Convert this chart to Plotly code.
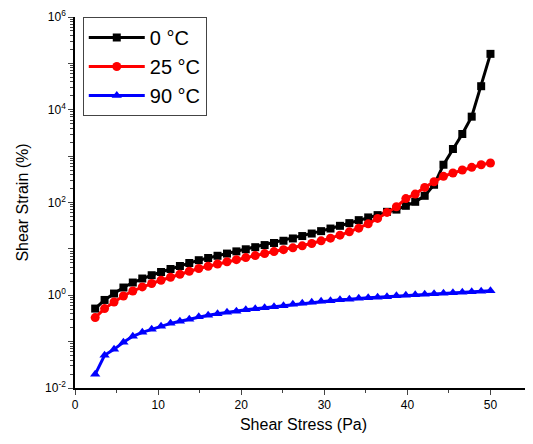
import plotly.graph_objects as go

stress = [2.41, 3.54, 4.68, 5.81, 6.94, 8.08, 9.21, 10.34, 11.48, 12.61, 13.74,
          14.88, 16.01, 17.14, 18.28, 19.41, 20.54, 21.68, 22.81, 23.94, 25.08,
          26.21, 27.34, 28.48, 29.61, 30.74, 31.88, 33.01, 34.14, 35.28, 36.41,
          37.54, 38.68, 39.81, 40.94, 42.08, 43.21, 44.34, 45.48, 46.61, 47.74,
          48.88, 50.0]

strain_0C = [0.516, 0.792, 1.088, 1.467, 1.881, 2.295, 2.704, 3.171, 3.681, 4.273,
             4.960, 5.701, 6.361, 7.096, 7.915, 8.831, 9.80, 10.88, 12.08, 13.41,
             14.96, 16.77, 18.90, 21.41, 24.12, 27.44, 31.40, 35.91, 41.68, 47.68,
             53.44, 62.97, 70.25, 84.87, 103.5, 139.5, 241.2, 652.0, 1423.0, 3001.0,
             7096.0, 32180.0, 160400.0]

strain_25C = [0.330, 0.516, 0.717, 0.966, 1.238, 1.511, 1.789, 2.109, 2.448, 2.842,
              3.299, 3.773, 4.230, 4.720, 5.266, 5.845, 6.489, 7.168, 7.915, 8.744,
              9.61, 10.51, 11.61, 13.08, 14.89, 17.02, 19.77, 23.29, 28.00, 34.67,
              45.36, 61.12, 80.77, 121.4, 151.9, 211.9, 280.0, 366.2, 431.5, 501.0,
              573.0, 652.1, 709.6]

strain_90C = [0.0197, 0.0506, 0.0682, 0.0966, 0.130, 0.159, 0.184, 0.214, 0.248, 0.274,
              0.303, 0.343, 0.370, 0.399, 0.429, 0.451, 0.486, 0.511, 0.537, 0.565,
              0.593, 0.639, 0.672, 0.706, 0.742, 0.761, 0.800, 0.820, 0.861, 0.883,
              0.905, 0.929, 0.975, 1.0, 1.025, 1.051, 1.077, 1.105, 1.132, 1.161,
              1.19, 1.22, 1.25]

series_names = ["0 °C", "25 °C", "90 °C"]
y_tickvals = [1e-2, 1e-1, 1e0, 1e1, 1e2, 1e3, 1e4, 1e5, 1e6]
y_ticktext = ["10<sup>-2</sup>", "", "10<sup>0</sup>", "", "10<sup>2</sup>", "",
              "10<sup>4</sup>", "", "10<sup>6</sup>"]
x_tickvals = [0, 10, 20, 30, 40, 50]

FONT = "Arial, Liberation Sans, sans-serif"

fig = go.Figure()
fig.add_trace(go.Scatter(x=stress, y=strain_0C, name=series_names[0], mode="lines+markers",
                         line=dict(color="black", width=3),
                         marker=dict(symbol="square", size=8, color="black")))
fig.add_trace(go.Scatter(x=stress, y=strain_25C, name=series_names[1], mode="lines+markers",
                         line=dict(color="red", width=3),
                         marker=dict(symbol="circle", size=9, color="red")))
fig.add_trace(go.Scatter(x=stress, y=strain_90C, name=series_names[2], mode="lines+markers",
                         line=dict(color="blue", width=3),
                         marker=dict(symbol="triangle-up", size=9, color="blue")))

# the page body adds an 8px offset, so the figure is sized and margined to compensate
fig.update_layout(
    width=525, height=436,
    margin=dict(l=67, r=1, t=9, b=56),
    paper_bgcolor="white", plot_bgcolor="white",
    font=dict(family=FONT, size=12, color="black"),
    showlegend=True,
    legend=dict(x=0.017, y=1.0, xanchor="left", yanchor="top",
                bordercolor="#444444", borderwidth=1, bgcolor="white",
                font=dict(family=FONT, size=20, color="black"),
                tracegroupgap=0, itemwidth=56),
)

fig.update_xaxes(
    range=[-0.02, 55], tickvals=x_tickvals, ticks="outside", ticklen=5, tickwidth=1,
    showline=True, linecolor="black", linewidth=1.5, showgrid=False, zeroline=False,
    automargin=False,
    minor=dict(dtick=5, tick0=0, ticks="outside", ticklen=3, tickwidth=1, showgrid=False),
    title=dict(text="Shear Stress (Pa)", font=dict(family=FONT, size=16), standoff=8),
    tickfont=dict(family=FONT, size=12),
)
fig.update_yaxes(
    type="log", range=[-2, 6], tickvals=y_tickvals, ticktext=y_ticktext,
    ticks="outside", ticklen=5, tickwidth=1,
    showline=True, linecolor="black", linewidth=1.5, showgrid=False, zeroline=False,
    automargin=False,
    minor=dict(dtick="D1", ticks="outside", ticklen=3, tickwidth=1, showgrid=False),
    title=dict(text="Shear Strain (%)", font=dict(family=FONT, size=16), standoff=12),
    tickfont=dict(family=FONT, size=12),
)

fig.write_html("out.html")
